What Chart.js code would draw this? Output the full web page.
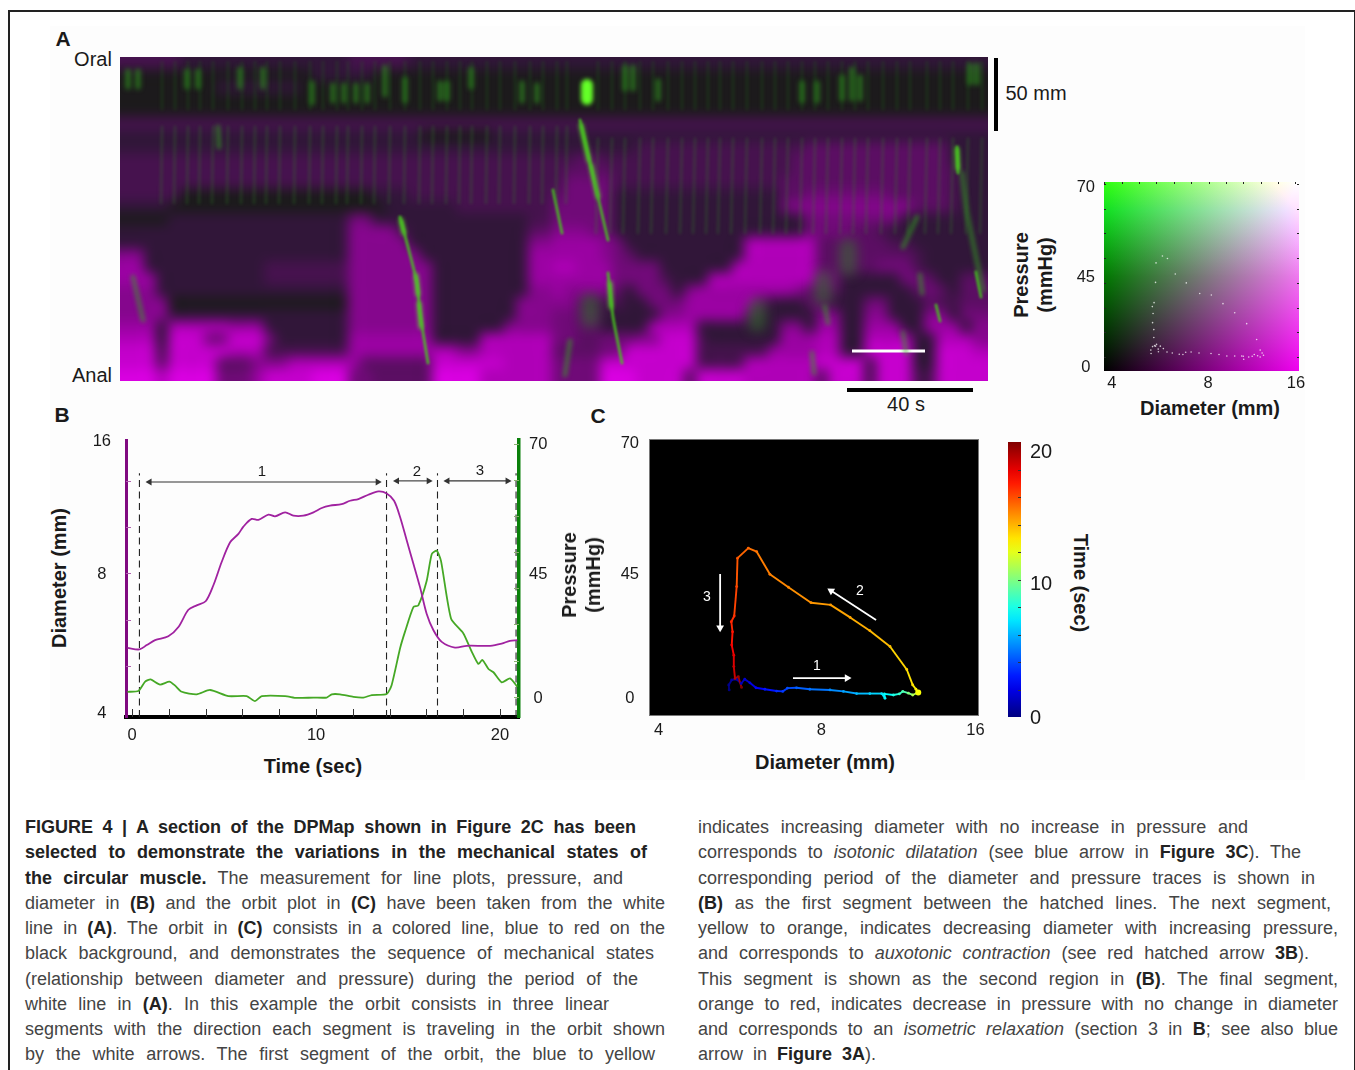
<!DOCTYPE html>
<html><head><meta charset="utf-8">
<script src="https://cdn.jsdelivr.net/npm/chart.js@4"></script>
<style>
html,body{margin:0;padding:0;background:#fff;width:1355px;height:1070px;overflow:hidden;font-family:"Liberation Sans",Arial,sans-serif}
#page{position:relative;width:1355px;height:1070px;overflow:hidden}
#frame{position:absolute;left:8px;top:10px;width:1344px;height:1100px;border:2.5px solid #222}
#panel{position:absolute;left:50px;top:26px;width:1255px;height:754px;background:#fdfdfd}
canvas{position:absolute}
.t{position:absolute;white-space:nowrap;color:#1a1a1a;line-height:1;transform:translate(-50%,-50%)}
.b{font-weight:700}
.r{transform:translate(-50%,-50%) rotate(-90deg);text-align:center;line-height:1.2}
.rc{transform:translate(-50%,-50%) rotate(90deg)}
.bar{position:absolute;background:#000}
.cap{position:absolute;width:640px;font-size:18px;color:#444}
.cap div{height:25.25px;line-height:25.25px;text-align:justify;text-align-last:justify;white-space:nowrap}
.cap b{color:#222}
</style></head><body><div id="page">
<div id="panel"></div><div id="frame"></div>
<canvas id="cA" style="left:120px;top:57px"></canvas>
<canvas id="cK" style="left:1060px;top:170px"></canvas>
<canvas id="cB" style="left:80px;top:425px"></canvas>
<canvas id="cC" style="left:610px;top:425px"></canvas>
<canvas id="cT" style="left:1000px;top:430px"></canvas>

<div class="t b" style="left:63px;top:38px;font-size:21px">A</div>
<div class="t" style="left:93px;top:59px;font-size:20px">Oral</div>
<div class="t" style="left:92px;top:375px;font-size:20px">Anal</div>
<div class="bar" style="left:994px;top:58px;width:3.5px;height:73px"></div>
<div class="t" style="left:1036px;top:93px;font-size:20px">50 mm</div>
<div class="bar" style="left:847px;top:388px;width:126px;height:3.5px"></div>
<div class="t" style="left:906px;top:404px;font-size:20px">40 s</div>
<div class="t b r" style="left:1033px;top:275px;font-size:20px">Pressure<br>(mmHg)</div>
<div class="t b" style="left:1210px;top:408px;font-size:20px">Diameter (mm)</div>
<div class="t b" style="left:62px;top:414px;font-size:21px">B</div>
<div class="t b" style="left:598px;top:415px;font-size:21px">C</div>
<div class="t b r" style="left:59px;top:578px;font-size:20px">Diameter (mm)</div>
<div class="t b" style="left:313px;top:766px;font-size:20px">Time (sec)</div>
<div class="t" style="left:262px;top:470px;font-size:15px">1</div>
<div class="t" style="left:417px;top:470px;font-size:15px">2</div>
<div class="t" style="left:480px;top:469px;font-size:15px">3</div>
<div class="t b r" style="left:581px;top:575px;font-size:20px;">Pressure<br>(mmHg)</div>
<div class="t b" style="left:825px;top:762px;font-size:20px">Diameter (mm)</div>
<div class="t b rc" style="left:1081px;top:583px;font-size:20px">Time (sec)</div>
<div class="t" style="left:817px;top:665px;font-size:14px;color:#fff">1</div>
<div class="t" style="left:860px;top:590px;font-size:14px;color:#fff">2</div>
<div class="t" style="left:707px;top:596px;font-size:14px;color:#fff">3</div>

<div class="cap" style="left:25px;top:815px">
<div style="width:611px"><b>FIGURE 4 | A section of the DPMap shown in Figure 2C has been</b></div>
<div style="width:622px"><b>selected to demonstrate the variations in the mechanical states of</b></div>
<div style="width:598px"><b>the circular muscle.</b> The measurement for line plots, pressure, and</div>
<div style="width:640px">diameter in <b>(B)</b> and the orbit plot in <b>(C)</b> have been taken from the white</div>
<div style="width:640px">line in <b>(A)</b>. The orbit in <b>(C)</b> consists in a colored line, blue to red on the</div>
<div style="width:629px">black background, and demonstrates the sequence of mechanical states</div>
<div style="width:613px">(relationship between diameter and pressure) during the period of the</div>
<div style="width:584px">white line in <b>(A)</b>. In this example the orbit consists in three linear</div>
<div style="width:640px">segments with the direction each segment is traveling in the orbit shown</div>
<div style="width:630px">by the white arrows. The first segment of the orbit, the blue to yellow</div>
</div>
<div class="cap" style="left:698px;top:815px">
<div style="width:550px">indicates increasing diameter with no increase in pressure and</div>
<div style="width:603px">corresponds to <i>isotonic dilatation</i> (see blue arrow in <b>Figure 3C</b>). The</div>
<div style="width:617px">corresponding period of the diameter and pressure traces is shown in</div>
<div style="width:633px"><b>(B)</b> as the first segment between the hatched lines. The next segment,</div>
<div style="width:640px">yellow to orange, indicates decreasing diameter with increasing pressure,</div>
<div style="width:611px">and corresponds to <i>auxotonic contraction</i> (see red hatched arrow <b>3B</b>).</div>
<div style="width:640px">This segment is shown as the second region in <b>(B)</b>. The final segment,</div>
<div style="width:640px">orange to red, indicates decrease in pressure with no change in diameter</div>
<div style="width:640px">and corresponds to an <i>isometric relaxation</i> (section 3 in <b>B</b>; see also blue</div>
<div style="width:178px">arrow in <b>Figure 3A</b>).</div>
</div>
</div>
<script>
/* ---------- Panel B: time traces ---------- */
const diameterTime = [-0.25,0.40,0.80,1.25,1.97,2.52,3.06,3.51,4.00,4.42,4.87,5.33,5.78,6.05,6.50,6.87,7.41,7.77,8.32,8.77,9.31,9.86,10.31,10.76,11.39,11.85,12.30,12.84,13.39,13.84,14.24,14.57,14.93,15.29,15.65,16.01,16.38,16.83,17.55,18.19,19.46,20.09,20.54,20.94];
const diameterMm = [5.51,5.47,5.59,5.73,5.84,6.12,6.67,6.82,6.96,7.54,8.47,9.35,9.75,10.11,10.51,10.46,10.74,10.65,10.86,10.68,10.68,10.86,11.10,11.23,11.32,11.51,11.61,11.86,12.06,11.94,11.51,10.60,9.43,8.40,7.47,6.54,6.02,5.68,5.52,5.57,5.57,5.63,5.71,5.73];
const pressureTime = [-0.25,0.34,0.71,1.01,1.52,2.03,2.34,2.70,3.51,4.24,5.24,6.23,6.68,7.05,8.32,8.95,9.86,10.58,10.85,11.30,12.03,12.57,13.03,13.84,14.11,14.57,14.84,15.29,15.56,16.01,16.29,16.56,16.79,17.34,18.00,18.46,18.82,19.04,19.37,19.64,20.09,20.54,20.94];
const pressureMmHg = [1.4,1.6,4.2,4.8,3.4,4.2,3.1,1.4,0.7,1.9,0.2,0.2,-1.2,0.2,0.2,-0.3,-0.2,-0.2,0.7,0.7,0,-0.2,0.5,0.8,3.3,13.5,18.1,24.8,25.3,32,39.5,40.4,37.6,21.6,17.6,12.5,9.1,10.2,7.7,6.8,4,5.1,2.8];
const sectionBoundaries = [0.40,13.83,16.60,20.87];
const sectionArrows = [[0.95,13.35,59.4],[14.40,16.12,59.7],[17.14,20.41,59.7]];
const timeTickLabels = [0,10,20];
const timeMinorTicks = [2,4,6,8,10,12,14,16,18,20,0];
const diameterMinorTicks = [12.7,10.08,8,6.35,5.04];
const pressureMinorTicks = [0,10,20,30,40,50,60,70];

/* ---------- Panel C: orbit (diameter, pressure, time) ---------- */
const orbitDiameter = [5.59,5.58,5.65,5.77,5.88,5.97,6.10,6.26,6.50,6.83,7.01,7.15,7.43,7.86,8.56,9.06,9.58,10.13,10.65,10.80,10.77,11.19,11.47,11.64,11.92,12.14,12.43,12.31,12.14,11.84,11.03,10.13,9.32,8.58,7.90,7.18,6.64,6.28,6.06,5.79,5.77,5.71,5.64,5.67,5.65,5.70,5.70,5.73,5.81,5.89];
const orbitPressure = [1.4,2.8,4.2,4.4,3.2,4.4,3.4,2.0,1.6,1.1,1.0,1.9,2.0,1.6,1.4,1.0,0.4,0.4,0.4,-0.9,0.3,0,0.3,1.0,0.5,0,0.7,1.6,2.8,7.1,13.5,17.9,21.6,25.1,25.7,30,33.6,39.9,40.9,38.1,30.2,22,20.4,17.6,13.9,11.1,7.9,4.6,5.1,2.1];
const orbitTime = [0,0.3,0.6,0.9,1.2,1.6,2,2.5,3,3.5,3.8,4.2,4.6,5,5.5,6,6.5,7,7.4,7.7,7.9,8.5,9,9.5,10.5,11.5,13,13.4,13.7,14,14.5,14.8,15,15.2,15.4,15.6,15.8,16,16.3,16.6,17,17.4,17.6,18,18.5,19,19.4,19.8,20.4,21];
const orbitArrows = [[7.32,4.7,9.2,4.7],[10.4,20.9,8.6,29],[5.38,33.7,5.38,18.7]];

/* ---------- Panel A: DPMap. One row per position, one digit per column: diameter level 0-9 ---------- */
const dpmapDiameterLevels = [
"222221111111 111111122222 111111111111 111111111111 111111111111 111111111111",
"000000000000 000011111000 000000000000 000000000000 000000000000 000000000000",
"000000001111 111000000000 000000000000 000000000000 000000000000 000000000000",
"000000000000 000000000000 000000000000 000000000000 000000000000 000000000000",
"000000000000 000000000000 000000000000 000000000000 000000000000 000000000000",
"222222222222 222222222222 222222222222 222222222222 222222222222 222222222222",
"111111111111 111111111111 100000011111 111111111111 111111111111 111111111111",
"111111111111 111111111111 111111111111 111111122222 222222222333 333333333111",
"222222222222 222222222222 222222222222 223322222222 222222223333 333333333111",
"222222222222 222222222222 222222222222 233332222222 222222223333 333333333211",
"222222222222 222222222222 222222222222 244442222222 222222233333 333333333211",
"222220000000 000000000111 222222222222 344441111111 111111133444 444433333211",
"111100000000 000000000011 111122222222 444441111111 111111145555 555555333211",
"000011111111 111111144111 111111111122 444441111111 111111111444 444441111111",
"111111111111 111111155552 111111111133 555441111111 111111111444 433211111111",
"111111111111 111111155555 111111111155 666654111111 111177777733 333322111111",
"551111111111 111111155555 511111111166 666654311111 111177777733 333333211111",
"661111111111 222222255555 551111111166 776664444111 111777777733 333444211111",
"666111111111 222222255555 551111111166 666664444211 177777777744 111114431133",
"555111111111 111111155555 551111111155 655553144415 666666665333 111111343133",
"555500000000 000000055555 551111111555 553222114446 666663111331 114411132233",
"555511111111 111111155555 551111111555 443311111556 666631111155 115511155144",
"666177777666 111111155555 551111115555 443311117777 111111155166 116661166615",
"777188844888 411111166666 661111777777 443344455888 211111166677 117777117775",
"888288888777 222222266666 667755777777 333344888888 222222666677 118888118887",
"888388883335 557777763333 338888887777 444488888888 222277777788 882888118888",
"999799994446 888899944333 339999777777 444499988883 888877777738 882888228888"
];
const dpmapMainStripes = [42,55,68,80,93,108,122,135,147,160,175,190,203,217,228,242,255,270,285,300,313,327,340,352,367,380,395,410,423,437,447];
const dpmapLateStripes = [478,492,505,520,533,548,562,575,588,600,613,627,642,655,668,682,695,708,722,735,748,763,777,790,807,820,833,848,862];
const dpmapPressureStreaks = [
  [[460,63],[470,106],[488,183]],
  [[488,216],[493,260],[502,306]],
  [[280,160],[288,190],[297,226],[300,256],[308,306]],
  [[433,133],[442,176]],
  [[837,90],[838,116]],
  [[856,215],[861,240]],
  [[816,248],[820,264]]
];
const dpmapPressurePeaks = [
  [[461,68],[469,104]],[[471,108],[478,140]],[[296,218],[298,238]],[[299,246],[301,270]],[[490,226],[491,250]],[[281,163],[284,176]],[[837,92],[838,112]]
];
const dpmapFaintStreaks = [
  [[13,220],[23,263]],
  [[98,70],[99,90]],
  [[842,116],[847,156],[863,233]],
  [[797,160],[783,190]],[[800,218],[802,236]],[[705,250],[708,266]],[[783,276],[786,296]],[[692,296],[694,316]],
  [[450,284],[445,318]]
];
const dpmapBroadPatches = [
  [[703,222],[703,240]],[[637,250],[637,266]],[[728,190],[728,210]],[[470,245],[470,262]]
];
const dpmapPressureSpots = [
  [8,14,30],[18,14,30],[67,14,30],[78,14,30],[120,12,30],[143,12,30],[192,26,46],[213,28,44],[224,28,44],[236,28,44],[247,28,44],[265,10,38],[285,22,44],[320,26,42],[327,26,42],[351,12,30],[402,26,44],[417,28,44],[505,10,32],[513,10,32],[538,24,42],[682,26,44],[697,26,44],[722,20,42],[732,12,42],[740,20,42],[850,8,26],[857,8,26]
];
const dpmapTopBlob = [[467,28],[467,42]];
const dpmapTrackedLine = [[732,294],[805,294]];

/* ---------- Tick label tables ---------- */
const keyDiameterLabels = ['4','8','16'];
const keyPressureLabels = ['0','45','70'];
const colorbarTickLabels = ['0','10','20'];

/* --- helpers --- */
Chart.defaults.font.family = '"Liberation Sans",Arial,sans-serif';
Chart.defaults.color = '#1a1a1a';
Chart.defaults.animation = false;
function jet(t){ // t in 0..1
  const c=(v)=>Math.round(255*Math.max(0,Math.min(1,v)));
  return `rgb(${c(1.5-Math.abs(4*t-3))},${c(1.5-Math.abs(4*t-2))},${c(1.5-Math.abs(4*t-1))})`;
}
function fixedTicks(values,labels){
  return {afterBuildTicks:s=>{s.ticks=values.map(v=>({value:v}))},
          callback:(v)=>labels[values.findIndex(x=>Math.abs(x-v)<1e-6)]};
}
function axis(o){
  const isX=o.position==='bottom';
  const ft=o.values?fixedTicks(o.values,o.labels):{};
  return {type:o.type||'linear',position:o.position,min:o.min,max:o.max,
    afterFit:s=>{ if(isX) s.height=o.fit; else s.width=o.fit; s.paddingTop=s.paddingBottom=s.paddingLeft=s.paddingRight=0; }, afterBuildTicks:ft.afterBuildTicks,
    grid:{display:false,drawTicks:false},
    border:o.border||{display:false},
    ticks:{autoSkip:false,maxRotation:0,minRotation:0,font:{size:o.size||16.5},color:'#1a1a1a',
      padding:o.padding,crossAlign:o.crossAlign||'near',callback:ft.callback}};
}
const innerTicks={id:'innerTicks',afterDraw(ch,_,opts){
  const ctx=ch.ctx,a=ch.chartArea;ctx.save();
  (opts.list||[]).forEach(l=>{
    const s=ch.scales[l.scale];ctx.strokeStyle=l.color;ctx.lineWidth=l.width||1;
    l.values.forEach(v=>{const p=Math.round(s.getPixelForValue(v))+.5;ctx.beginPath();
      if(l.side==='bottom'){ctx.moveTo(p,a.bottom);ctx.lineTo(p,a.bottom-l.len)}
      if(l.side==='top'){ctx.moveTo(p,a.top);ctx.lineTo(p,a.top+l.len)}
      if(l.side==='left'){ctx.moveTo(a.left,p);ctx.lineTo(a.left+l.len,p)}
      if(l.side==='right'){ctx.moveTo(a.right,p);ctx.lineTo(a.right-l.len,p)}
      ctx.stroke();});
  });ctx.restore();}};
function size(id,w,h){const c=document.getElementById(id);c.width=w;c.height=h;c.style.width=w+'px';c.style.height=h+'px';return c;}
const base={responsive:false,maintainAspectRatio:false,animation:false,plugins:{legend:{display:false},tooltip:{enabled:false},title:{display:false}}};
function opts(extra,padding,scales,plugOpts){
  return Object.assign({},base,extra,{layout:{padding,autoPadding:false},scales,plugins:Object.assign({},base.plugins,plugOpts||{})});
}
const xy=(xs,ys)=>xs.map((x,i)=>({x,y:ys[i]}));
const pressureMin=-5.57, pressureMax=71, diameterLow=3.9, diameterHigh=15.6;

/* --- Panel A --- */
const rows=dpmapDiameterLevels.map(r=>r.replace(/ /g,''));
const cellSize=12, edgeCells=3;
function heatImage(){
  const h=rows.length,w=rows[0].length,W=w+2*edgeCells,H=h+2*edgeCells,c=document.createElement('canvas');c.width=W;c.height=H;
  const x=c.getContext('2d'),im=x.createImageData(W,H);
  for(let J=0;J<H;J++)for(let I=0;I<W;I++){
    const j=Math.max(0,Math.min(h-1,J-edgeCells)),i=Math.max(0,Math.min(w-1,I-edgeCells));
    const l=+rows[j][i],m=28+l*21,k=(J*W+I)*4,g=Math.max(0,26-l*4);
    im.data[k]=m;im.data[k+1]=g;im.data[k+2]=Math.min(255,m+(l?8:0));im.data[k+3]=255;}
  x.putImageData(im,0,0);return c;
}
const heat=heatImage();
const dpmapPlugin={id:'dpmap',
  beforeDatasetsDraw(ch){const {x,y}=ch.scales,ctx=ch.ctx;ctx.save();ctx.imageSmoothingEnabled=true;ctx.imageSmoothingQuality='high';
    ctx.filter='blur(5px)';
    const pad=edgeCells*cellSize,l=x.getPixelForValue(-pad),r=x.getPixelForValue(rows[0].length*cellSize+pad),t=y.getPixelForValue(-pad),b=y.getPixelForValue(rows.length*cellSize+pad);
    ctx.drawImage(heat,l,t,r-l,b-t);ctx.restore();},
  beforeDatasetDraw(ch,a){const d=ch.data.datasets[a.index];ch.ctx.save();
    if(d.blur){ch.ctx.filter=`blur(${d.blur}px)`;}},
  afterDatasetDraw(ch){ch.ctx.restore();}
};
function polylines(list){const out=[];list.forEach(l=>{l.forEach(p=>out.push({x:p[0],y:p[1]}));out.push({x:l[l.length-1][0],y:null});});return out;}
const lineDs=(data,color,width,blur,extra)=>Object.assign({type:'scatter',showLine:true,data,borderColor:color,borderWidth:width,pointRadius:0,spanGaps:false,tension:.2,blur,borderCapStyle:'round'},extra||{});
size('cA',868,324);
new Chart('cA',{type:'scatter',plugins:[dpmapPlugin],
 data:{datasets:[
  lineDs(polylines(dpmapMainStripes.map(x=>[[x,70],[x-1,146]]).concat(dpmapLateStripes.map(x=>[[x,82],[x-2,176]]))),'rgba(50,130,40,.28)',2.8,1.6),
  lineDs(polylines(dpmapMainStripes.concat(dpmapLateStripes).map(x=>[[x,5],[x,52]])),'rgba(30,110,20,.22)',3,1.6),
  lineDs(polylines(dpmapBroadPatches),'rgba(50,125,40,.5)',18,6),
  lineDs(polylines(dpmapFaintStreaks),'rgba(50,170,30,.5)',5,2.2),
  lineDs(polylines(dpmapPressureSpots.map(s=>[[s[0],s[1]],[s[0],s[2]]])),'rgba(50,170,30,.6)',5,2.4),
  lineDs(polylines(dpmapPressureStreaks),'rgba(70,200,30,.8)',3,1.3),
  lineDs(polylines(dpmapPressurePeaks),'rgba(95,245,40,.85)',4,2),
  lineDs(polylines([dpmapTopBlob]),'rgba(100,255,40,1)',12,2.2),
  lineDs(xy(dpmapTrackedLine.map(p=>p[0]),dpmapTrackedLine.map(p=>p[1])),'#fff',3,0,{borderCapStyle:'butt',tension:0})
 ]},
 options:opts({},0,{x:{type:'linear',min:0,max:868,display:false},y:{type:'linear',min:0,max:324,reverse:true,display:false}})
});

/* --- Colour key --- */
const keyBg={id:'keyBg',beforeDatasetsDraw(ch){const a=ch.chartArea,c=ch.ctx;c.save();
  const w=a.right-a.left,h=a.bottom-a.top;
  let g=c.createLinearGradient(a.left,0,a.right,0);g.addColorStop(0,'#000');g.addColorStop(1,'#f000f0');c.fillStyle=g;c.fillRect(a.left,a.top,w,h);
  c.globalCompositeOperation='lighter';
  g=c.createLinearGradient(0,a.bottom,0,a.top);g.addColorStop(0,'#000');g.addColorStop(.5,'#007800');g.addColorStop(.85,'#10e020');g.addColorStop(1,'#30ff10');c.fillStyle=g;c.fillRect(a.left,a.top,w,h);
  c.restore();}};
size('cK',260,225);
new Chart('cK',{type:'scatter',plugins:[keyBg,innerTicks],
 data:{datasets:[{data:xy(orbitDiameter,orbitPressure),backgroundColor:'rgba(255,255,255,.75)',pointRadius:.8,borderWidth:0}]},
 options:opts({},{left:0,right:21,top:12,bottom:0},{
  x:axis({type:'logarithmic',position:'bottom',min:4,max:16,values:[4.23,8.38,15.65],labels:keyDiameterLabels,padding:3,fit:24}),
  y:axis({position:'left',min:-5.67,max:70.85,values:[-4.2,32.4,68.8],labels:keyPressureLabels,padding:9,crossAlign:'center',fit:44})
 },{innerTicks:{list:[
  {scale:'y',side:'right',len:2,color:'#222',values:[0,10,20,30,40,50,60,70]},
  {scale:'y',side:'left',len:2,color:'#222',values:[0,10,20,30,40,50,60,70]},
  {scale:'x',side:'top',len:2,color:'#222',values:[4,4.53,5.13,5.8,6.56,7.43,8.41,9.51,10.77,12.19,13.8,15.6]}
 ]}})
});

/* --- Panel B --- */
const dash=t=>({type:'scatter',showLine:true,yAxisID:'yP',data:[{x:t,y:pressureMin},{x:t,y:61.8}],borderColor:'#222',borderWidth:1.1,borderDash:[7,4.5],pointRadius:0,order:3});
const arrow=(a,color,w,r)=>({type:'scatter',showLine:true,yAxisID:'yP',data:[{x:a[0],y:a[2]},{x:a[1],y:a[2]}],borderColor:color,borderWidth:w,pointStyle:'triangle',pointRadius:r,pointBackgroundColor:color,pointBorderWidth:0,pointRotation:[-90,90],order:3});
size('cB',490,320);
new Chart('cB',{type:'scatter',plugins:[innerTicks],
 data:{datasets:[
  ...sectionBoundaries.map(dash),
  ...sectionArrows.map(a=>arrow(a,'#333',1.1,4)),
  {type:'scatter',showLine:true,yAxisID:'yD',data:xy(diameterTime,diameterMm),borderColor:'#a022a0',borderWidth:1.8,pointRadius:0,tension:.3,order:1},
  {type:'scatter',showLine:true,yAxisID:'yP',data:xy(pressureTime,pressureMmHg),borderColor:'#45a825',borderWidth:1.8,pointRadius:0,tension:.2,order:2}
 ]},
 options:opts({},{left:0,right:0,top:15,bottom:0},{
  x:axis({position:'bottom',min:-0.33,max:21.03,values:timeTickLabels,labels:timeTickLabels.map(String),padding:9,fit:28,border:{display:true,color:'#000',width:4}}),
  yD:axis({type:'logarithmic',position:'left',min:diameterLow,max:diameterHigh,values:[3.96,7.95,15.5],labels:['4','8','16'],padding:15,crossAlign:'center',fit:46,border:{display:true,color:'#800a80',width:3}}),
  yP:axis({position:'right',min:pressureMin,max:pressureMax,values:[-0.5,33.7,69.7],labels:['0','45','70'],padding:10,crossAlign:'center',fit:51,border:{display:true,color:'#0a800a',width:3.5}})
 },{innerTicks:{list:[
  {scale:'x',side:'bottom',len:8,color:'#333',values:timeMinorTicks},
  {scale:'yD',side:'left',len:5,color:'#b060b0',values:diameterMinorTicks},
  {scale:'yP',side:'right',len:5,color:'#8ab070',values:pressureMinorTicks}
 ]}})
});

/* --- Panel C --- */
const frameBlack={id:'frameBlack',beforeDatasetsDraw(ch){const a=ch.chartArea,c=ch.ctx;c.save();c.fillStyle='#000';c.fillRect(a.left,a.top,a.right-a.left,a.bottom-a.top);c.strokeStyle='#777';c.lineWidth=1;c.strokeRect(a.left-.5,a.top-.5,a.right-a.left+1,a.bottom-a.top+1);c.restore();}};
const orbitPts=orbitDiameter.map((d,i)=>({x:d,y:orbitPressure[i],t:orbitTime[i]}));
const whiteArrow=a=>({type:'scatter',showLine:true,data:[{x:a[0],y:a[1]},{x:a[2],y:a[3]}],borderColor:'#fff',borderWidth:1.8,
  pointStyle:'triangle',pointBackgroundColor:'#fff',pointBorderWidth:0,pointRadius:[0,4.5],
  pointRotation:(ctx)=>{const s=ctx.chart.scales;const dx=s.x.getPixelForValue(a[2])-s.x.getPixelForValue(a[0]),dy=s.y.getPixelForValue(a[3])-s.y.getPixelForValue(a[1]);return Math.atan2(dy,dx)*180/Math.PI+90;}});
size('cC',390,320);
new Chart('cC',{type:'scatter',plugins:[frameBlack],
 data:{datasets:[
  {type:'scatter',showLine:true,data:orbitPts,borderWidth:1.9,pointRadius:c=>c.dataIndex===26?3:1.4,pointBorderWidth:0,
   pointBackgroundColor:c=>jet((orbitTime[c.dataIndex]||0)/21),
   segment:{borderColor:c=>jet(orbitTime[c.p0DataIndex]/21)}},
  ...orbitArrows.map(whiteArrow)
 ]},
 options:opts({},{left:0,right:22,top:15,bottom:0},{
  x:axis({type:'logarithmic',position:'bottom',min:4,max:16,values:[4.15,8.25,15.83],labels:['4','8','16'],padding:6,fit:30}),
  y:axis({position:'left',min:pressureMin,max:pressureMax,values:[-1.05,33.45,69.95],labels:['0','45','70'],padding:11,crossAlign:'center',fit:40})
 })
});

/* --- Time colour bar --- */
size('cT',70,300);
new Chart('cT',{type:'bar',plugins:[innerTicks],
 data:{labels:['Time'],datasets:[{data:[21],barPercentage:1,categoryPercentage:1,
  backgroundColor:c=>{const a=c.chart.chartArea;if(!a)return '#000';const g=c.chart.ctx.createLinearGradient(0,a.bottom,0,a.top);
   for(let i=0;i<=20;i++)g.addColorStop(i/20,jet(i/20));return g;}}]},
 options:opts({},{left:8,right:0,top:12,bottom:13},{
  x:{type:'category',display:false},
  y:axis({position:'right',min:0,max:21,values:[-0.1,10.1,20.2],labels:colorbarTickLabels,size:20,padding:9,fit:49})
 },{innerTicks:{list:[{scale:'y',side:'right',len:3,color:'#333',values:[2.1,4.2,6.3,8.4,10.5,12.6,14.7,16.8,18.9]}]}})
});
</script></body></html>
